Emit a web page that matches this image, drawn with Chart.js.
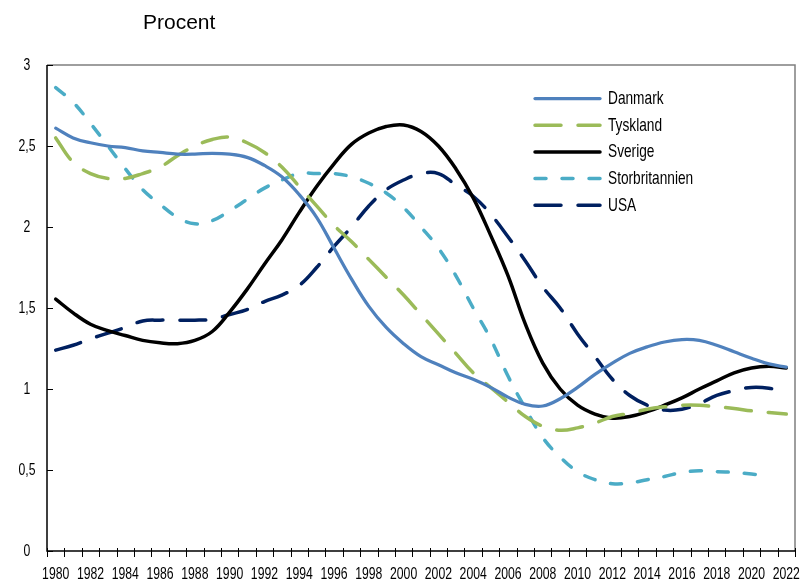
<!DOCTYPE html>
<html><head><meta charset="utf-8">
<script src="https://cdn.jsdelivr.net/npm/chart.js@4.4.1/dist/chart.umd.min.js"></script>
<style>html,body{margin:0;padding:0;background:#fff;overflow:hidden}</style>
</head><body>
<canvas id="c" width="804" height="582"></canvas>
<script>
const years = ['1980','1981','1982','1983','1984','1985','1986','1987','1988','1989',
  '1990','1991','1992','1993','1994','1995','1996','1997','1998','1999',
  '2000','2001','2002','2003','2004','2005','2006','2007','2008','2009',
  '2010','2011','2012','2013','2014','2015','2016','2017','2018','2019',
  '2020','2021','2022'];
const danmark = [2.61,2.55,2.52,2.50,2.49,2.47,2.46,2.45,2.45,2.455,
  2.45,2.43,2.38,2.31,2.20,2.06,1.87,1.68,1.51,1.38,
  1.28,1.20,1.15,1.10,1.06,1.01,0.95,0.905,0.895,0.94,
  1.01,1.09,1.16,1.22,1.26,1.29,1.305,1.30,1.27,1.23,
  1.19,1.155,1.135];
const tyskland = [2.55,2.40,2.33,2.30,2.30,2.33,2.37,2.44,2.50,2.54,
  2.555,2.52,2.46,2.37,2.25,2.13,2.01,1.91,1.80,1.69,
  1.58,1.46,1.34,1.22,1.10,1.01,0.92,0.83,0.77,0.745,
  0.76,0.79,0.83,0.85,0.875,0.89,0.90,0.90,0.89,0.88,
  0.865,0.855,0.845];
const sverige = [1.555,1.47,1.40,1.36,1.33,1.30,1.285,1.28,1.30,1.355,
  1.475,1.615,1.77,1.92,2.09,2.25,2.39,2.51,2.58,2.62,
  2.63,2.59,2.50,2.36,2.18,1.95,1.70,1.40,1.16,1.00,
  0.90,0.845,0.82,0.83,0.86,0.90,0.945,1.00,1.05,1.10,
  1.13,1.14,1.13];
const storbritannien = [2.86,2.77,2.64,2.50,2.36,2.23,2.14,2.06,2.02,2.04,
  2.10,2.17,2.24,2.29,2.33,2.33,2.33,2.31,2.27,2.21,
  2.12,2.00,1.87,1.70,1.50,1.31,1.08,0.88,0.70,0.58,
  0.49,0.44,0.415,0.42,0.44,0.46,0.485,0.495,0.49,0.485,
  0.475,0.465,null];
const usa = [1.24,1.27,1.31,1.345,1.38,1.42,1.425,1.425,1.425,1.43,
  1.46,1.49,1.54,1.58,1.64,1.75,1.88,2.00,2.13,2.23,
  2.29,2.33,2.33,2.26,2.19,2.08,1.94,1.79,1.63,1.50,
  1.34,1.20,1.06,0.96,0.90,0.87,0.875,0.91,0.96,0.99,
  1.01,1.005,0.98];
const yTicks = [0,0.5,1,1.5,2,2.5,3];
const titleText = 'Procent';

const FONT = "'Liberation Sans', Arial, sans-serif";
const SQUEEZE = 0.74;

function narrowText(ctx, text, x, y, size, align) {
  ctx.save();
  ctx.font = size + 'px ' + FONT;
  ctx.textAlign = align; ctx.textBaseline = 'middle';
  ctx.translate(x, y); ctx.scale(SQUEEZE, 1);
  ctx.fillText(text, 0, 0);
  ctx.restore();
}

const extras = {
  id: 'extras',
  beforeDatasetsDraw(chart) {
    const {ctx, chartArea: a, scales: {x, y}} = chart;
    ctx.save();
    ctx.strokeStyle = '#7f7f7f'; ctx.lineWidth = 1.5;
    ctx.beginPath();
    ctx.moveTo(a.left, a.top); ctx.lineTo(a.right, a.top); ctx.lineTo(a.right, a.bottom);
    ctx.stroke();
    ctx.strokeStyle = '#000'; ctx.lineWidth = 1.5;
    ctx.beginPath();
    ctx.moveTo(a.left, a.top); ctx.lineTo(a.left, a.bottom); ctx.lineTo(a.right, a.bottom);
    ctx.stroke();
    ctx.lineWidth = 1;
    ctx.beginPath();
    yTicks.forEach(v => { const py = Math.round(y.getPixelForValue(v)) + 0.5; ctx.moveTo(a.left, py); ctx.lineTo(a.left + 6, py); });
    const step = x.getPixelForValue(1) - x.getPixelForValue(0);
    for (let i = 0; i <= years.length; i++) {
      const px = Math.round(x.getPixelForValue(i) - step / 2) + 0.5;
      ctx.moveTo(px, a.bottom - 3); ctx.lineTo(px, a.bottom + 6);
    }
    ctx.stroke();
    ctx.restore();
  },
  afterDraw(chart) {
    const {ctx, chartArea: a, scales: {x, y}} = chart;
    ctx.save();
    ctx.fillStyle = '#000';
    ctx.font = "21px " + FONT;
    ctx.textBaseline = 'alphabetic'; ctx.textAlign = 'left';
    ctx.fillText(titleText, 143, 29);
    x.ticks.forEach((t, i) => {
      if (i % 2 === 0) narrowText(ctx, years[i], x.getPixelForTick(i), a.bottom + 23, 16.5, 'center');
    });
    yTicks.forEach(v => {
      narrowText(ctx, String(v).replace('.', ','), 27, y.getPixelForValue(v), 16.5, 'center');
    });
    chart.data.datasets.forEach((ds, i) => {
      const yy = 98.5 + i * 26.7;
      ctx.strokeStyle = ds.borderColor; ctx.lineWidth = ds.borderWidth;
      ctx.lineCap = 'round';
      ctx.setLineDash(ds.borderDash || []);
      ctx.beginPath(); ctx.moveTo(535, yy); ctx.lineTo(600, yy); ctx.stroke();
      ctx.setLineDash([]);
      narrowText(ctx, ds.label, 608, yy + 0.5, 18.5, 'left');
    });
    ctx.restore();
  }
};

new Chart(document.getElementById('c'), {
  type: 'line',
  data: {
    labels: years,
    datasets: [
      {label:'Danmark', data: danmark, borderColor:'#4f81bd', borderWidth:3.25, borderDash:[]},
      {label:'Tyskland', data: tyskland, borderColor:'#9bbb59', borderWidth:3.5, borderDash:[26,17]},
      {label:'Sverige', data: sverige, borderColor:'#000000', borderWidth:3.5, borderDash:[]},
      {label:'Storbritannien', data: storbritannien, borderColor:'#4bacc6', borderWidth:3.5, borderDash:[11,16]},
      {label:'USA', data: usa, borderColor:'#002060', borderWidth:3.5, borderDash:[26,17]}
    ].map(d => Object.assign(d, {tension:0.4, pointRadius:0, fill:false, borderCapStyle:'round', borderJoinStyle:'round', spanGaps:false}))
  },
  options: {
    responsive: false,
    animation: false,
    events: [],
    layout: {padding: {top: 65, right: 9, left: 0, bottom: 0}},
    plugins: {legend: {display: false}, tooltip: {enabled: false}, title: {display: false}},
    scales: {
      x: {
        type: 'category', offset: true,
        grid: {display: false, drawTicks: false, offset: true},
        border: {display: false},
        ticks: {display: false, autoSkip: false, maxRotation: 0, minRotation: 0},
        afterFit(s) { s.height = 31; }
      },
      y: {
        min: 0, max: 3,
        grid: {display: false, drawTicks: false},
        border: {display: false},
        afterBuildTicks(s) { s.ticks = yTicks.map(v => ({value: v})); },
        ticks: {display: false},
        afterFit(s) { s.width = 47; }
      }
    }
  },
  plugins: [extras]
});
</script>
</body></html>
